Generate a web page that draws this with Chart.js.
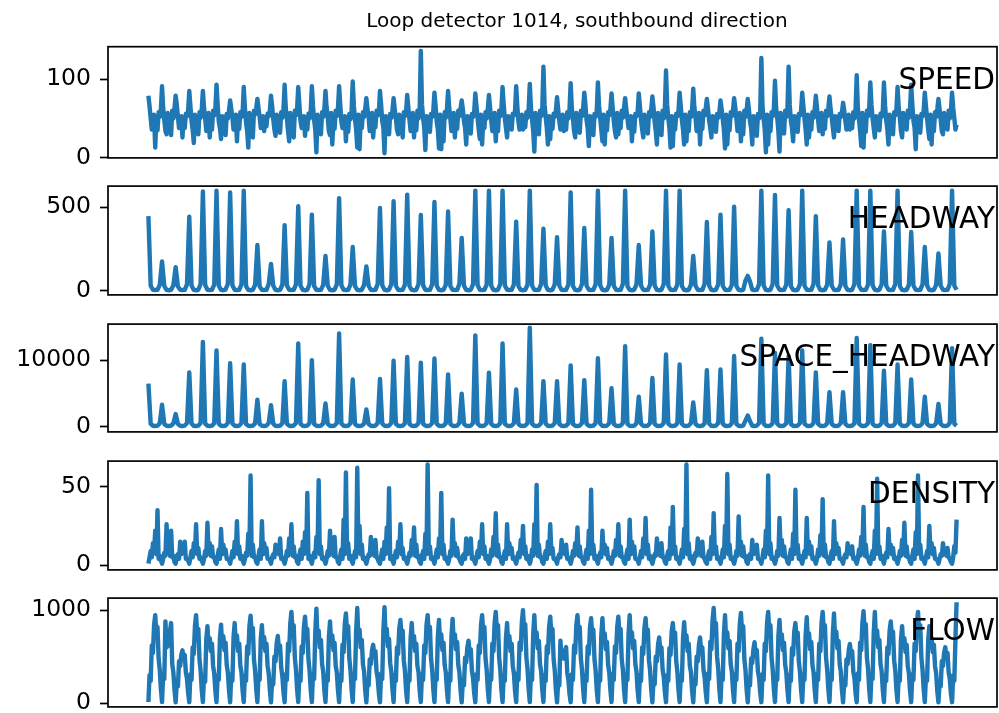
<!DOCTYPE html>
<html>
<head>
<meta charset="utf-8">
<script src="https://cdn.jsdelivr.net/npm/chart.js@4.4.1/dist/chart.umd.min.js"></script>
<style>
  html, body { margin: 0; padding: 0; background: #fff; overflow: hidden; }
  body { width: 999px; height: 713px; position: relative; }
  canvas { position: absolute; left: 0; }
</style>
</head>
<body>
<script>
// one row per day, the first value of a row is the night one (~3:30)
// speed, density, flow: 12 samples a day (every 2 h); headways: 6 a day (every 4 h)
const speed = [
  79, 66, 50, 36, 42, 55, 13, 50, 35, 58, 52, 62,
  91, 64, 48, 34, 30, 57, 44, 48, 29, 60, 50, 63,
  79, 68, 52, 38, 45, 53, 26, 52, 38, 56, 53, 60,
  85, 66, 47, 36, 19, 55, 40, 50, 30, 58, 51, 62,
  85, 64, 50, 34, 44, 57, 26, 48, 36, 60, 54, 63,
  93, 68, 46, 38, 24, 53, 42, 52, 29, 56, 50, 60,
  73, 62, 51, 36, 40, 55, 21, 50, 37, 58, 52, 58,
  90, 64, 45, 34, 13, 57, 38, 48, 26, 60, 55, 63,
  75, 63, 52, 38, 46, 53, 34, 52, 40, 56, 53, 60,
  79, 66, 49, 36, 28, 55, 43, 50, 32, 58, 51, 62,
  93, 64, 50, 34, 21, 57, 40, 48, 26, 60, 54, 63,
  90, 68, 47, 38, 42, 53, 28, 52, 36, 56, 50, 60,
  91, 66, 48, 36, 7, 55, 39, 50, 30, 58, 52, 62,
  85, 64, 51, 34, 29, 57, 17, 48, 37, 60, 53, 63,
  91, 68, 46, 38, 40, 53, 21, 52, 33, 56, 49, 60,
  97, 66, 49, 36, 13, 55, 11, 50, 38, 58, 52, 62,
  76, 62, 52, 34, 44, 57, 26, 48, 39, 60, 54, 58,
  85, 68, 47, 38, 6, 53, 41, 52, 30, 56, 51, 60,
  76, 62, 50, 36, 30, 55, 43, 50, 26, 58, 53, 58,
  80, 64, 48, 34, 41, 57, 26, 48, 35, 60, 50, 63,
  136, 68, 51, 38, 10, 53, 40, 52, 33, 56, 52, 60,
  83, 66, 46, 36, 12, 55, 11, 50, 21, 58, 51, 62,
  85, 64, 50, 34, 42, 57, 26, 48, 37, 60, 53, 63,
  73, 62, 47, 38, 17, 53, 39, 52, 31, 56, 52, 58,
  82, 66, 51, 36, 24, 55, 17, 50, 38, 58, 50, 62,
  80, 64, 48, 34, 40, 57, 21, 48, 34, 60, 53, 63,
  90, 68, 50, 38, 26, 53, 43, 52, 36, 56, 54, 60,
  91, 66, 46, 36, 41, 55, 36, 50, 39, 58, 51, 62,
  94, 64, 49, 34, 8, 57, 38, 48, 30, 60, 53, 63,
  116, 68, 52, 38, 17, 53, 24, 52, 37, 56, 52, 60,
  77, 62, 47, 36, 40, 55, 34, 50, 36, 58, 50, 62,
  95, 64, 50, 34, 26, 57, 41, 48, 32, 60, 53, 63,
  83, 68, 48, 38, 15, 53, 39, 52, 29, 56, 52, 60,
  96, 66, 51, 36, 21, 55, 17, 50, 35, 58, 54, 62,
  82, 64, 47, 34, 26, 57, 30, 48, 38, 60, 51, 63,
  76, 62, 50, 38, 42, 53, 21, 52, 33, 56, 53, 58,
  82, 66, 48, 36, 26, 55, 40, 50, 31, 58, 52, 62,
  78, 64, 46, 34, 17, 57, 38, 48, 29, 60, 50, 63,
  111, 68, 50, 38, 13, 53, 15, 52, 36, 56, 53, 60,
  83, 66, 48, 36, 17, 55, 21, 50, 34, 58, 52, 62,
  88, 64, 51, 34, 41, 57, 17, 48, 37, 60, 54, 63,
  75, 62, 47, 38, 26, 53, 42, 52, 33, 56, 51, 58,
  73, 62, 49, 36, 12, 55, 17, 50, 35, 58, 53, 60,
  76, 64, 50, 34, 40, 57, 21, 48, 30, 60, 52, 60,
  75, 62, 46, 38, 17, 53, 39, 52, 28, 56, 50, 60,
  127, 66, 49, 36, 7, 55, 17, 50, 34, 58, 53, 62,
  98, 64, 51, 34, 8, 57, 40, 48, 31, 60, 52, 63,
  116, 68, 47, 38, 21, 53, 38, 52, 33, 56, 54, 60,
  83, 66, 50, 36, 17, 55, 26, 50, 36, 58, 51, 62,
  79, 64, 48, 34, 42, 57, 30, 48, 37, 60, 53, 63,
  78, 62, 51, 38, 26, 53, 41, 52, 34, 56, 52, 58,
  70, 60, 47, 36, 43, 55, 36, 50, 38, 58, 50, 62,
  105, 64, 49, 34, 15, 57, 13, 48, 33, 60, 53, 63,
  96, 68, 50, 38, 26, 53, 40, 52, 35, 56, 52, 60,
  96, 66, 48, 36, 17, 55, 38, 50, 30, 58, 54, 62,
  90, 64, 51, 34, 26, 57, 42, 48, 36, 60, 51, 63,
  93, 68, 47, 38, 11, 53, 39, 52, 32, 56, 53, 60,
  83, 66, 50, 36, 24, 55, 17, 50, 34, 58, 52, 62,
  75, 62, 48, 34, 30, 57, 41, 48, 36, 60, 50, 60,
  83, 64, 50, 36, 42
]

const headway = [
  447, 30, 6, 4, 5, 35,
  175, 28, 5, 3, 6, 32,
  141, 25, 6, 4, 5, 38,
  443, 30, 5, 3, 6, 40,
  595, 34, 6, 4, 5, 36,
  599, 30, 5, 3, 7, 42,
  589, 32, 6, 4, 5, 38,
  599, 28, 5, 3, 6, 34,
  274, 26, 6, 4, 5, 40,
  160, 30, 5, 3, 6, 36,
  393, 32, 6, 4, 5, 38,
  506, 30, 5, 3, 6, 40,
  456, 28, 6, 4, 5, 35,
  209, 30, 5, 3, 6, 38,
  555, 32, 6, 4, 5, 36,
  262, 28, 5, 3, 6, 34,
  146, 30, 6, 4, 5, 40,
  496, 33, 5, 3, 6, 38,
  536, 30, 6, 4, 5, 36,
  576, 28, 5, 3, 6, 40,
  454, 32, 6, 4, 5, 38,
  532, 30, 5, 3, 6, 35,
  475, 28, 6, 4, 5, 42,
  317, 30, 5, 3, 6, 38,
  600, 34, 6, 4, 5, 36,
  600, 30, 5, 3, 6, 40,
  600, 32, 6, 4, 5, 38,
  414, 28, 5, 3, 6, 36,
  600, 30, 6, 4, 5, 40,
  371, 32, 5, 3, 6, 38,
  321, 30, 6, 4, 5, 36,
  589, 28, 5, 3, 6, 40,
  376, 30, 6, 4, 5, 38,
  600, 33, 5, 3, 6, 35,
  317, 30, 6, 4, 5, 40,
  600, 28, 5, 3, 6, 38,
  274, 30, 6, 4, 5, 36,
  355, 32, 5, 3, 6, 40,
  600, 30, 6, 4, 5, 38,
  600, 28, 5, 3, 6, 36,
  209, 30, 6, 4, 5, 40,
  412, 32, 5, 3, 6, 38,
  456, 30, 6, 4, 5, 35,
  504, 28, 5, 3, 6, 60,
  89, 55, 6, 4, 5, 38,
  600, 32, 5, 3, 6, 40,
  574, 30, 6, 4, 5, 36,
  483, 28, 5, 3, 6, 38,
  600, 30, 6, 4, 5, 40,
  447, 32, 5, 3, 6, 36,
  289, 30, 6, 4, 5, 38,
  308, 28, 5, 3, 6, 40,
  600, 30, 6, 4, 5, 36,
  600, 33, 5, 3, 6, 38,
  355, 30, 6, 4, 5, 40,
  600, 28, 5, 3, 6, 36,
  352, 30, 6, 4, 5, 38,
  262, 32, 5, 3, 6, 35,
  224, 30, 6, 4, 5, 40,
  600, 30, 6
]

const spaceHeadway = [
  6460, 420, 130, 90, 140, 500,
  3300, 400, 120, 80, 150, 480,
  1890, 380, 130, 90, 140, 520,
  8160, 430, 120, 85, 150, 540,
  12740, 450, 130, 90, 140, 500,
  11460, 420, 125, 80, 150, 560,
  9530, 440, 130, 90, 145, 520,
  9340, 400, 120, 85, 140, 480,
  4060, 380, 130, 90, 150, 540,
  3210, 420, 120, 80, 140, 500,
  6840, 430, 130, 90, 150, 520,
  12500, 410, 125, 85, 140, 540,
  10000, 400, 130, 90, 145, 480,
  3490, 420, 120, 80, 150, 520,
  14010, 440, 130, 90, 140, 500,
  7080, 400, 120, 85, 150, 460,
  2590, 380, 130, 90, 140, 540,
  7170, 450, 120, 80, 150, 520,
  9910, 420, 130, 90, 140, 500,
  10470, 400, 125, 85, 150, 540,
  9620, 430, 130, 90, 145, 520,
  10240, 410, 120, 80, 140, 480,
  7830, 400, 130, 90, 150, 560,
  4950, 420, 120, 85, 140, 520,
  13730, 450, 130, 90, 150, 500,
  8110, 420, 125, 80, 140, 540,
  12500, 430, 130, 90, 145, 520,
  5570, 400, 120, 85, 150, 500,
  14860, 420, 130, 90, 140, 540,
  6840, 440, 120, 80, 150, 520,
  6840, 400, 130, 90, 140, 480,
  9200, 380, 125, 85, 150, 540,
  6980, 420, 130, 90, 145, 500,
  10280, 430, 120, 80, 140, 520,
  5760, 400, 130, 90, 150, 540,
  12080, 420, 120, 85, 140, 500,
  4480, 410, 130, 90, 150, 520,
  7310, 400, 125, 80, 140, 540,
  10850, 440, 130, 90, 145, 500,
  9340, 420, 120, 85, 150, 520,
  3630, 400, 130, 90, 140, 480,
  8490, 430, 120, 80, 150, 540,
  8590, 420, 130, 90, 140, 500,
  10610, 400, 125, 85, 150, 900,
  1650, 800, 130, 90, 145, 520,
  13210, 440, 120, 80, 140, 540,
  11090, 420, 130, 90, 150, 500,
  10600, 400, 120, 85, 140, 520,
  11460, 430, 130, 90, 150, 540,
  8160, 410, 125, 80, 140, 500,
  5190, 400, 130, 90, 145, 520,
  5190, 420, 120, 85, 150, 480,
  13350, 440, 130, 90, 140, 540,
  12260, 420, 120, 80, 150, 520,
  8400, 400, 130, 90, 140, 500,
  9340, 430, 125, 85, 150, 540,
  7080, 420, 130, 90, 145, 520,
  4480, 400, 120, 80, 140, 500,
  3400, 380, 130, 90, 150, 540,
  11790, 420, 130
]

const density = [
  1, 5, 9, 5, 14, 8, 22, 7, 35, 4, 6, 3,
  1, 4, 8, 6, 26, 9, 14, 6, 22, 5, 6, 2,
  1, 6, 7, 4, 15, 7, 10, 8, 15, 4, 4, 3,
  1, 5, 9, 5, 14, 8, 26, 7, 11, 4, 5, 3,
  1, 4, 9, 6, 27, 9, 14, 6, 12, 5, 5, 2,
  1, 6, 10, 4, 23, 7, 13, 8, 10, 4, 4, 3,
  1, 5, 9, 5, 15, 8, 28, 7, 12, 4, 6, 3,
  1, 4, 8, 6, 20, 9, 57, 6, 13, 5, 5, 2,
  1, 6, 10, 4, 28, 7, 14, 8, 11, 4, 4, 3,
  1, 5, 7, 5, 13, 8, 9, 7, 17, 4, 5, 3,
  1, 4, 9, 6, 17, 9, 26, 6, 12, 5, 6, 2,
  1, 6, 10, 4, 15, 7, 21, 8, 46, 4, 6, 3,
  1, 5, 8, 5, 18, 8, 54, 7, 12, 4, 5, 3,
  1, 4, 9, 6, 22, 9, 12, 6, 18, 5, 5, 2,
  1, 6, 10, 4, 29, 7, 59, 8, 14, 4, 6, 3,
  1, 5, 9, 5, 62, 8, 25, 7, 13, 4, 5, 3,
  1, 4, 7, 6, 18, 9, 11, 6, 16, 5, 4, 2,
  1, 6, 10, 4, 15, 7, 24, 8, 49, 4, 6, 3,
  1, 5, 9, 5, 15, 8, 26, 7, 11, 4, 5, 3,
  1, 4, 8, 6, 16, 9, 24, 6, 13, 5, 6, 2,
  1, 6, 9, 4, 20, 7, 64, 8, 12, 4, 5, 3,
  1, 5, 10, 5, 17, 8, 46, 7, 13, 4, 5, 3,
  1, 4, 9, 6, 29, 9, 14, 6, 11, 5, 4, 2,
  1, 6, 7, 4, 17, 7, 10, 8, 17, 4, 5, 3,
  1, 5, 9, 5, 15, 8, 26, 7, 12, 4, 6, 3,
  1, 4, 10, 6, 18, 9, 33, 6, 13, 5, 5, 2,
  1, 6, 9, 4, 26, 7, 14, 8, 11, 4, 5, 3,
  1, 5, 8, 5, 16, 8, 25, 7, 12, 4, 6, 3,
  1, 4, 10, 6, 26, 9, 51, 6, 13, 5, 5, 2,
  1, 6, 9, 4, 15, 7, 26, 8, 11, 4, 4, 3,
  1, 5, 7, 5, 16, 8, 10, 7, 13, 4, 5, 3,
  1, 4, 9, 6, 14, 9, 24, 6, 12, 5, 5, 2,
  1, 6, 10, 4, 22, 7, 48, 8, 13, 4, 6, 3,
  1, 5, 8, 5, 22, 8, 13, 7, 11, 4, 5, 3,
  1, 4, 9, 6, 16, 9, 26, 6, 12, 5, 5, 2,
  1, 6, 10, 4, 29, 7, 15, 8, 12, 4, 4, 3,
  1, 5, 9, 5, 17, 8, 30, 7, 13, 4, 6, 3,
  1, 4, 7, 6, 17, 9, 10, 6, 14, 5, 5, 2,
  1, 6, 9, 4, 24, 7, 37, 8, 12, 4, 5, 3,
  1, 5, 10, 5, 23, 8, 64, 7, 14, 4, 6, 3,
  1, 4, 8, 6, 17, 9, 11, 6, 15, 5, 4, 2,
  1, 6, 9, 4, 18, 7, 33, 8, 12, 4, 5, 3,
  1, 5, 10, 5, 25, 8, 58, 7, 13, 4, 5, 3,
  1, 4, 9, 6, 31, 9, 15, 6, 12, 5, 6, 2,
  1, 6, 7, 4, 16, 7, 10, 8, 13, 4, 4, 3,
  1, 5, 10, 5, 22, 8, 57, 7, 14, 4, 5, 3,
  1, 4, 9, 6, 30, 9, 16, 6, 12, 5, 5, 2,
  1, 6, 10, 4, 20, 7, 48, 8, 13, 4, 6, 3,
  1, 5, 9, 5, 30, 8, 15, 7, 12, 4, 5, 3,
  1, 4, 10, 6, 19, 9, 42, 6, 13, 5, 5, 2,
  1, 6, 9, 4, 28, 7, 14, 8, 11, 4, 4, 3,
  1, 5, 7, 5, 14, 8, 9, 7, 12, 4, 5, 3,
  1, 4, 10, 6, 18, 9, 37, 6, 13, 5, 5, 2,
  1, 6, 9, 4, 22, 7, 55, 8, 12, 4, 6, 3,
  1, 5, 8, 5, 23, 8, 13, 7, 11, 4, 5, 3,
  1, 4, 9, 6, 16, 9, 27, 6, 12, 5, 5, 2,
  1, 6, 10, 4, 21, 7, 57, 8, 13, 4, 5, 3,
  1, 5, 9, 5, 25, 8, 14, 7, 11, 4, 4, 3,
  1, 4, 7, 6, 14, 9, 9, 6, 11, 5, 4, 2,
  1, 5, 12, 8, 29
]

const flow = [
  12, 300, 240, 620, 540, 840, 948, 760, 820, 480, 360, 150,
  10, 320, 260, 880, 600, 700, 620, 780, 862, 420, 330, 140,
  8, 220, 180, 450, 400, 520, 569, 480, 520, 330, 260, 110,
  10, 310, 250, 600, 530, 830, 948, 740, 800, 470, 350, 140,
  12, 290, 230, 690, 828, 610, 700, 560, 640, 400, 320, 130,
  10, 300, 250, 700, 845, 620, 720, 570, 650, 410, 330, 140,
  9, 310, 240, 710, 862, 630, 730, 560, 640, 400, 330, 130,
  11, 290, 240, 610, 530, 830, 941, 750, 810, 470, 350, 150,
  10, 300, 250, 690, 838, 610, 710, 560, 640, 400, 320, 140,
  8, 250, 200, 500, 450, 640, 724, 580, 620, 380, 290, 120,
  10, 310, 250, 640, 560, 860, 983, 780, 840, 490, 360, 150,
  12, 300, 240, 610, 540, 820, 931, 740, 800, 470, 350, 140,
  10, 320, 260, 760, 1017, 680, 780, 600, 680, 420, 340, 140,
  11, 300, 240, 710, 880, 630, 730, 570, 650, 400, 330, 140,
  10, 300, 240, 630, 550, 850, 965, 770, 830, 480, 360, 150,
  12, 320, 260, 770, 1024, 690, 790, 600, 680, 420, 340, 140,
  8, 230, 190, 470, 420, 570, 628, 520, 560, 340, 270, 110,
  10, 320, 260, 780, 1034, 700, 800, 610, 690, 430, 340, 150,
  11, 300, 240, 600, 530, 800, 896, 720, 780, 460, 350, 140,
  10, 300, 240, 700, 862, 630, 720, 560, 640, 400, 330, 130,
  12, 310, 250, 620, 540, 840, 948, 760, 820, 480, 360, 150,
  10, 300, 250, 720, 896, 640, 740, 570, 650, 410, 330, 140,
  11, 310, 240, 720, 907, 650, 740, 580, 660, 410, 330, 140,
  8, 240, 190, 490, 440, 600, 672, 540, 580, 350, 270, 110,
  10, 310, 250, 620, 540, 840, 948, 760, 820, 480, 360, 150,
  12, 300, 250, 640, 560, 860, 983, 780, 840, 490, 360, 140,
  10, 300, 240, 700, 862, 620, 720, 560, 640, 400, 320, 130,
  11, 320, 250, 650, 570, 870, 1000, 790, 850, 490, 370, 150,
  10, 310, 250, 740, 948, 660, 760, 590, 670, 420, 340, 140,
  12, 300, 240, 610, 540, 820, 931, 740, 800, 470, 350, 140,
  8, 230, 190, 672, 480, 520, 480, 560, 603, 330, 250, 100,
  10, 310, 250, 620, 540, 840, 948, 760, 820, 480, 360, 150,
  11, 300, 240, 610, 530, 810, 914, 730, 790, 470, 350, 140,
  10, 300, 240, 730, 914, 650, 750, 580, 660, 410, 330, 140,
  12, 310, 250, 610, 540, 820, 931, 740, 800, 470, 360, 150,
  10, 310, 250, 740, 948, 660, 760, 590, 670, 420, 340, 140,
  11, 300, 240, 600, 530, 810, 914, 730, 790, 460, 350, 140,
  8, 250, 200, 500, 450, 630, 707, 560, 600, 360, 280, 120,
  10, 300, 240, 590, 520, 770, 862, 700, 760, 450, 340, 140,
  12, 300, 240, 700, 872, 630, 730, 560, 640, 400, 330, 130,
  8, 250, 200, 500, 450, 630, 707, 560, 600, 360, 280, 120,
  10, 320, 260, 660, 580, 890, 1024, 800, 860, 500, 370, 150,
  11, 310, 250, 740, 948, 660, 760, 590, 670, 420, 340, 140,
  10, 310, 250, 640, 560, 850, 972, 770, 830, 480, 360, 150,
  8, 230, 190, 480, 430, 580, 655, 530, 570, 340, 270, 110,
  10, 310, 250, 640, 560, 860, 983, 780, 840, 490, 360, 150,
  12, 300, 250, 720, 896, 640, 740, 570, 650, 410, 330, 140,
  10, 300, 240, 590, 520, 770, 862, 700, 760, 450, 340, 140,
  11, 310, 250, 730, 924, 650, 750, 580, 660, 410, 330, 140,
  10, 310, 250, 640, 560, 860, 983, 780, 840, 490, 360, 150,
  12, 310, 250, 750, 965, 670, 770, 590, 670, 420, 340, 140,
  8, 230, 190, 470, 420, 570, 638, 520, 560, 340, 270, 110,
  10, 320, 250, 650, 570, 860, 990, 790, 850, 490, 370, 150,
  11, 320, 260, 760, 983, 680, 780, 600, 680, 420, 340, 140,
  10, 300, 240, 600, 530, 780, 880, 710, 770, 460, 350, 140,
  12, 290, 240, 680, 828, 610, 700, 550, 630, 400, 320, 130,
  10, 310, 250, 640, 560, 860, 983, 780, 840, 490, 360, 150,
  11, 290, 240, 680, 828, 610, 700, 550, 630, 400, 320, 130,
  8, 220, 180, 450, 400, 540, 603, 500, 540, 330, 260, 100,
  10, 300, 240, 700, 1086
]

const samplesPerDay = [12, 6, 6, 12, 12]

const speedTicks = [0, 100]
const headwayTicks = [0, 500]
const spaceHeadwayTicks = [0, 10000]
const densityTicks = [0, 50]
const flowTicks = [0, 1000]

const speedLimits = [0, 141.3]
const headwayLimits = [-25, 627]
const spaceHeadwayLimits = [-800, 15420]
const densityLimits = [-3, 66.2]
const flowLimits = [-41, 1131]

const panelNames = ["SPEED", "HEADWAY", "SPACE_HEADWAY", "DENSITY", "FLOW"]
const chartTitle = "Loop detector 1014, southbound direction"

// page layout (px)
const pageWidth = 999
const plotLeft = 108
const plotRight = 997
const panelTops = [46.7, 183.4, 321, 458.3, 595.6]
const panelHeight = 114
const lineBlue = "#1f77b4"
const lineWidth = 4.4

Chart.defaults.font.family = "'DejaVu Sans', sans-serif"

// frame around each axes, the name in the corner, and the title on top
const panelDecor = {
  id: "panelDecor",
  afterDatasetsDraw(chart, args, opts) {
    const { ctx, chartArea: a } = chart
    ctx.save()
    ctx.strokeStyle = "#000"
    ctx.lineWidth = 1.7
    ctx.strokeRect(a.left, a.top, a.right - a.left, a.bottom - a.top)
    ctx.fillStyle = "#000"
    ctx.textBaseline = "alphabetic"
    ctx.textAlign = "right"
    ctx.font = "29.5px 'DejaVu Sans'"
    ctx.fillText(opts.text, a.right - 2, a.top + 42)
    if (opts.title) {
      ctx.textAlign = "center"
      ctx.font = "20px 'DejaVu Sans'"
      ctx.fillText(opts.title, 577, 26.7)
    }
    ctx.restore()
  },
}

function makePanel(i, values, tickValues, limits) {
  const canvasTop = i === 0 ? 0 : Math.floor(panelTops[i] - 20)
  const padTop = panelTops[i] - canvasTop
  const height = Math.ceil(padTop + panelHeight + 20)
  const padBottom = height - padTop - panelHeight

  const canvas = document.createElement("canvas")
  canvas.width = pageWidth
  canvas.height = height
  canvas.style.width = pageWidth + "px"
  canvas.style.height = height + "px"
  canvas.style.top = canvasTop + "px"
  document.body.appendChild(canvas)

  const perDay = samplesPerDay[i]
  const span = (values.length - 1) / perDay

  return new Chart(canvas, {
    type: "line",
    data: {
      datasets: [
        {
          data: values.map((v, k) => ({ x: k / perDay, y: v })),
          borderColor: lineBlue,
          borderWidth: lineWidth,
          borderJoinStyle: "round",
          pointRadius: 0,
          tension: 0,
          fill: false,
        },
      ],
    },
    options: {
      responsive: false,
      animation: false,
      parsing: false,
      events: [],
      layout: {
        padding: { left: 0, right: pageWidth - plotRight, top: padTop, bottom: padBottom },
      },
      plugins: {
        legend: { display: false },
        tooltip: { enabled: false },
        panelDecor: { text: panelNames[i], title: i === 0 ? chartTitle : null },
      },
      scales: {
        x: {
          type: "linear",
          display: false,
          min: -0.05 * span,
          max: 1.05 * span,
        },
        y: {
          min: limits[0],
          max: limits[1],
          afterBuildTicks: (axis) => {
            axis.ticks = tickValues.map((v) => ({ value: v }))
          },
          afterFit: (axis) => {
            axis.width = plotLeft
          },
          border: { display: false },
          grid: {
            drawOnChartArea: false,
            drawTicks: true,
            tickLength: 8,
            tickWidth: 1.7,
            tickColor: "#000",
          },
          ticks: {
            color: "#000",
            padding: 9,
            font: { size: 23.5 },
            callback: (v) => String(v),
          },
        },
      },
    },
    plugins: [panelDecor],
  })
}

makePanel(0, speed, speedTicks, speedLimits)
makePanel(1, headway, headwayTicks, headwayLimits)
makePanel(2, spaceHeadway, spaceHeadwayTicks, spaceHeadwayLimits)
makePanel(3, density, densityTicks, densityLimits)
makePanel(4, flow, flowTicks, flowLimits)
</script>
</body>
</html>
